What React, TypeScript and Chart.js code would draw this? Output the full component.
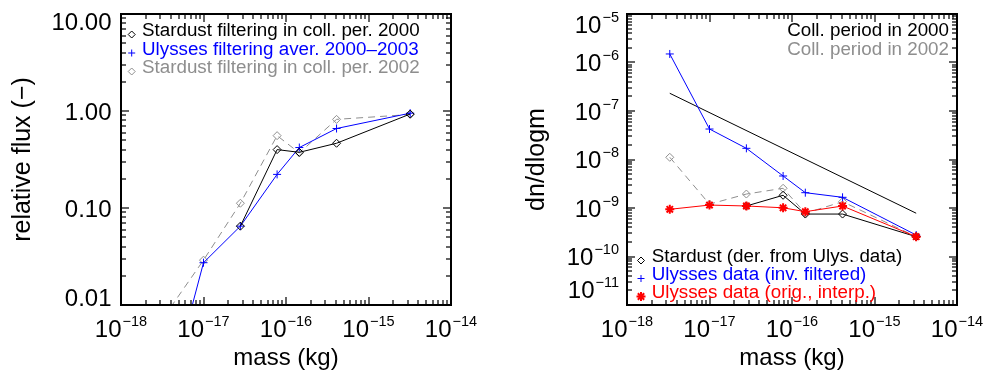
import React, { useEffect, useRef } from "react";
import { Chart, registerables } from "chart.js";

Chart.register(...registerables);

const FONT = '"Liberation Sans", Arial, Helvetica, sans-serif';

// ---------------- data ----------------
const masses = [3.3e-18, 1.0e-17, 2.8e-17, 7.8e-17, 1.45e-16, 4.1e-16, 3.2e-15];

// left panel: relative flux
const fluxStardust2000 = [null, null, 0.065, 0.4, 0.375, 0.465, 0.93];
const fluxUlyssesAver = [7.7e-4, 0.0273, 0.065, 0.222, 0.42, 0.66, 0.95];
const fluxStardust2002 = [0.0075, 0.029, 0.112, 0.557, 0.37, 0.82, 0.92];

// right panel: dn/dlogm
const dnStardust2000 = [null, null, 1.1e-9, 1.83e-9, 7.5e-10, 7.5e-10, 2.56e-10];
const dnStardust2002 = [1.11e-8, 1.2e-9, 1.94e-9, 2.55e-9, 7.8e-10, 1.35e-9, 2.56e-10];
const dnUlyssesInv = [1.5e-6, 4.25e-8, 1.7e-8, 4.57e-9, 2.07e-9, 1.66e-9, 2.77e-10];
const dnUlyssesOrig = [9.4e-10, 1.15e-9, 1.1e-9, 1.01e-9, 8.4e-10, 1.1e-9, 2.56e-10];
const collPeriodMass = [3.3e-18, 3.2e-15];
const collPeriod2000 = [2.32e-7, 7.8e-10];

// ticks
const xTickExps = [-18, -17, -16, -15, -14];
const leftYTicks = [10, 1, 0.1, 0.01];
const leftYTickLabels = ["10.00", "1.00", "0.10", "0.01"];
const rightYTickExps = [-5, -6, -7, -8, -9, -10, -11];

// legends
const leftLegend = [
  { text: "Stardust filtering in coll. per. 2000", color: "#000000", symbol: "diamond" },
  { text: "Ulysses filtering aver. 2000\u20132003", color: "#0000ff", symbol: "plus" },
  { text: "Stardust filtering in coll. per. 2002", color: "#8e8e8e", symbol: "diamond" },
];
const rightTopLegend = [
  { text: "Coll. period in 2000", color: "#000000" },
  { text: "Coll. period in 2002", color: "#8e8e8e" },
];
const rightBottomLegend = [
  { text: "Stardust (der. from Ulys. data)", color: "#000000", symbol: "diamond" },
  { text: "Ulysses data (inv. filtered)", color: "#0000ff", symbol: "plus" },
  { text: "Ulysses data (orig., interp.)", color: "#ff0000", symbol: "star" },
];

const BLACK = "#000000";
const BLUE = "#0000ff";
const RED = "#ff0000";
const GRAY = "#8e8e8e";

// ---------------- helpers ----------------
function logTicks(minExp: number, maxExp: number) {
  const out: { v: number; major: boolean }[] = [];
  for (let e = minExp; e < maxExp; e++) {
    for (let k = 1; k < 10; k++) out.push({ v: k * Math.pow(10, e), major: k === 1 });
  }
  out.push({ v: Math.pow(10, maxExp), major: true });
  return out;
}

function resetCtx(ctx: CanvasRenderingContext2D) {
  ctx.setLineDash([]);
  ctx.lineDashOffset = 0;
  ctx.globalAlpha = 1;
  ctx.globalCompositeOperation = "source-over";
}

function drawSymbol(ctx: CanvasRenderingContext2D, sym: string, x: number, y: number, r: number, color: string, lw: number) {
  ctx.save();
  resetCtx(ctx);
  ctx.strokeStyle = color;
  ctx.lineWidth = lw;
  ctx.beginPath();
  if (sym === "diamond") {
    ctx.moveTo(x, y - r);
    ctx.lineTo(x + r, y);
    ctx.lineTo(x, y + r);
    ctx.lineTo(x - r, y);
    ctx.closePath();
  } else {
    ctx.moveTo(x - r, y);
    ctx.lineTo(x + r, y);
    ctx.moveTo(x, y - r);
    ctx.lineTo(x, y + r);
    if (sym === "star") {
      const d = r * Math.SQRT1_2;
      ctx.moveTo(x - d, y - d);
      ctx.lineTo(x + d, y + d);
      ctx.moveTo(x - d, y + d);
      ctx.lineTo(x + d, y - d);
    }
  }
  ctx.stroke();
  ctx.restore();
}

function drawPow(ctx: CanvasRenderingContext2D, exp: number, x: number, baseY: number, align: "center" | "right") {
  const base = "10";
  const sup = (exp < 0 ? "\u2212" : "") + Math.abs(exp);
  ctx.font = `24px ${FONT}`;
  const wb = ctx.measureText(base).width;
  ctx.font = `14.5px ${FONT}`;
  const ws = ctx.measureText(sup).width;
  const gap = 1;
  const total = wb + gap + ws;
  const x0 = align === "center" ? x - total / 2 : x - total;
  ctx.textAlign = "left";
  ctx.textBaseline = "alphabetic";
  ctx.font = `24px ${FONT}`;
  ctx.fillText(base, x0, baseY);
  ctx.font = `14.5px ${FONT}`;
  ctx.fillText(sup, x0 + wb + gap, baseY - 11);
}

function drawFrame(chart: any, yMinExp: number, yMaxExp: number) {
  const { ctx, chartArea: a } = chart;
  const xs = chart.scales.x;
  const ys = chart.scales.y;
  const L = Math.round(a.left);
  const R = Math.round(a.right);
  const T = Math.round(a.top);
  const B = Math.round(a.bottom);
  ctx.save();
  resetCtx(ctx);
  ctx.fillStyle = "#000000";
  // box: 2px lines
  ctx.fillRect(L - 1, T - 1, R - L + 2, 2);
  ctx.fillRect(L - 1, B - 1, R - L + 2, 2);
  ctx.fillRect(L - 1, T - 1, 2, B - T + 2);
  ctx.fillRect(R - 1, T - 1, 2, B - T + 2);
  // ticks pointing inward on all four sides
  const xMinE = Math.min(...xTickExps);
  const xMaxE = Math.max(...xTickExps);
  for (const t of logTicks(xMinE, xMaxE)) {
    const px = Math.round(xs.getPixelForValue(t.v));
    const len = t.major ? 8 : 5;
    ctx.fillRect(px - 0.6, B - len, 1.2, len);
    ctx.fillRect(px - 0.6, T, 1.2, len);
  }
  for (const t of logTicks(yMinExp, yMaxExp)) {
    const py = Math.round(ys.getPixelForValue(t.v));
    const len = t.major ? 8 : 5;
    ctx.fillRect(L, py - 0.6, len, 1.2);
    ctx.fillRect(R - len, py - 0.6, len, 1.2);
  }
  // x tick labels
  for (const e of xTickExps) {
    const px = xs.getPixelForValue(Math.pow(10, e));
    drawPow(ctx, e, px, a.bottom + 32, "center");
  }
  ctx.restore();
}

function drawXTitle(chart: any, text: string) {
  const { ctx, chartArea: a } = chart;
  ctx.save();
  ctx.fillStyle = "#000";
  ctx.font = `24px ${FONT}`;
  ctx.textAlign = "center";
  ctx.textBaseline = "alphabetic";
  ctx.fillText(text, (a.left + a.right) / 2, a.bottom + 60);
  ctx.restore();
}

function drawYTitle(chart: any, text: string, baseX: number) {
  const { ctx, chartArea: a } = chart;
  ctx.save();
  ctx.fillStyle = "#000";
  ctx.font = `25px ${FONT}`;
  ctx.translate(baseX, (a.top + a.bottom) / 2);
  ctx.rotate(-Math.PI / 2);
  ctx.textAlign = "center";
  ctx.textBaseline = "alphabetic";
  ctx.fillText(text, 0, 0);
  ctx.restore();
}

function drawLegend(ctx: CanvasRenderingContext2D, items: any[], symX: number | null, textX: number, y0: number, dy: number, align: "left" | "right") {
  ctx.save();
  ctx.font = `18.8px ${FONT}`;
  ctx.textAlign = align;
  ctx.textBaseline = "alphabetic";
  items.forEach((it, i) => {
    const y = y0 + i * dy;
    ctx.fillStyle = it.color;
    ctx.fillText(it.text, textX, y);
    if (symX !== null && it.symbol) {
      const r = it.symbol === "star" ? 4.5 : 3.5;
      drawSymbol(ctx, it.symbol, symX, y - 1.5, r, it.color, it.symbol === "star" ? 2 : 1);
    }
  });
  ctx.restore();
}

const clamp = (v: number, lo: number, hi: number) => Math.max(lo, Math.min(hi, v));

const leftDecor = {
  id: "leftDecor",
  afterDatasetsDraw(chart: any) {
    const { ctx, chartArea: a } = chart;
    const ys = chart.scales.y;
    drawFrame(chart, -2, 1);
    ctx.save();
    ctx.fillStyle = "#000";
    ctx.font = `24px ${FONT}`;
    ctx.textAlign = "right";
    ctx.textBaseline = "alphabetic";
    leftYTicks.forEach((v, i) => {
      const py = ys.getPixelForValue(v);
      const cy = clamp(py, a.top + 7.5, a.bottom - 7.5);
      ctx.fillText(leftYTickLabels[i], a.left - 9.5, cy + 8.5);
    });
    ctx.restore();
    drawXTitle(chart, "mass (kg)");
    drawYTitle(chart, "relative flux (\u2212)", 30);
    drawLegend(ctx, leftLegend, a.left + 10.7, a.left + 21, a.top + 22, 18.5, "left");
  },
};

const rightDecor = {
  id: "rightDecor",
  afterDatasetsDraw(chart: any) {
    const { ctx, chartArea: a } = chart;
    const ys = chart.scales.y;
    drawFrame(chart, -11, -5);
    ctx.save();
    ctx.fillStyle = "#000";
    rightYTickExps.forEach((e) => {
      const py = ys.getPixelForValue(Math.pow(10, e));
      const cy = clamp(py, a.top + 10, a.bottom - 16);
      drawPow(ctx, e, a.left - 8, cy + 8.5, "right");
    });
    ctx.restore();
    drawXTitle(chart, "mass (kg)");
    drawYTitle(chart, "dn/dlogm", 543.5 - 490);
    drawLegend(ctx, rightTopLegend, null, a.right - 8, a.top + 22, 18.5, "right");
    drawLegend(ctx, rightBottomLegend, a.left + 14, a.left + 24.7, a.bottom - 43, 18, "left");
  },
};

function ds(label: string, xs: number[], ys: (number | null)[], color: string, style: any, extra: any = {}) {
  return {
    label,
    data: xs.map((x, i) => ({ x, y: ys[i] })),
    borderColor: color,
    backgroundColor: "rgba(0,0,0,0)",
    pointBorderColor: color,
    pointBackgroundColor: "rgba(0,0,0,0)",
    pointStyle: style,
    pointRadius: 4,
    pointBorderWidth: 1,
    borderWidth: 1,
    fill: false,
    tension: 0,
    clip: 0,
    spanGaps: false,
    ...extra,
  };
}

function baseOptions(yMin: number, yMax: number, padding: any) {
  return {
    responsive: false,
    maintainAspectRatio: false,
    animation: false,
    devicePixelRatio: 1,
    events: [],
    layout: { padding },
    plugins: {
      legend: { display: false },
      tooltip: { enabled: false },
      title: { display: false },
    },
    scales: {
      x: {
        type: "logarithmic",
        min: Math.pow(10, Math.min(...xTickExps)),
        max: Math.pow(10, Math.max(...xTickExps)),
        display: false,
      },
      y: { type: "logarithmic", min: yMin, max: yMax, display: false },
    },
  };
}

export default function App() {
  const leftRef = useRef<HTMLCanvasElement>(null);
  const rightRef = useRef<HTMLCanvasElement>(null);

  useEffect(() => {
    const left = new Chart(leftRef.current!, {
      type: "line",
      data: {
        datasets: [
          ds("Stardust filtering in coll. per. 2000", masses, fluxStardust2000, BLACK, "rectRot"),
          ds("Ulysses filtering aver. 2000-2003", masses, fluxUlyssesAver, BLUE, "cross"),
          ds("Stardust filtering in coll. per. 2002", masses, fluxStardust2002, GRAY, "rectRot", { borderDash: [7, 5] }),
        ],
      },
      options: baseOptions(
        Math.min(...leftYTicks),
        Math.max(...leftYTicks),
        { left: 121, right: 39, top: 14, bottom: 70 }
      ) as any,
      plugins: [leftDecor],
    } as any);

    const right = new Chart(rightRef.current!, {
      type: "line",
      data: {
        datasets: [
          ds("Ulysses data (orig., interp.)", masses, dnUlyssesOrig, RED, "star", { pointRadius: 4.5, pointBorderWidth: 2 }),
          ds("Ulysses data (inv. filtered)", masses, dnUlyssesInv, BLUE, "cross"),
          ds("Stardust 2000", masses, dnStardust2000, BLACK, "rectRot"),
          ds("Stardust 2002", masses, dnStardust2002, GRAY, "rectRot", { borderDash: [7, 5] }),
          ds("Coll. period in 2000", collPeriodMass, collPeriod2000, BLACK, "circle", { pointRadius: 0 }),
        ],
      },
      options: baseOptions(
        Math.pow(10, Math.min(...rightYTickExps)),
        Math.pow(10, Math.max(...rightYTickExps)),
        { left: 137, right: 28, top: 14, bottom: 70 }
      ) as any,
      plugins: [rightDecor],
    } as any);

    return () => {
      left.destroy();
      right.destroy();
    };
  }, []);

  return (
    <div style={{ position: "absolute", left: 0, top: 0, width: 985, height: 375, background: "#fff" }}>
      <canvas
        ref={leftRef}
        width={490}
        height={375}
        style={{ position: "absolute", left: 0, top: 0, width: 490, height: 375, display: "block" }}
      />
      <canvas
        ref={rightRef}
        width={495}
        height={375}
        style={{ position: "absolute", left: 490, top: 0, width: 495, height: 375, display: "block" }}
      />
    </div>
  );
}
